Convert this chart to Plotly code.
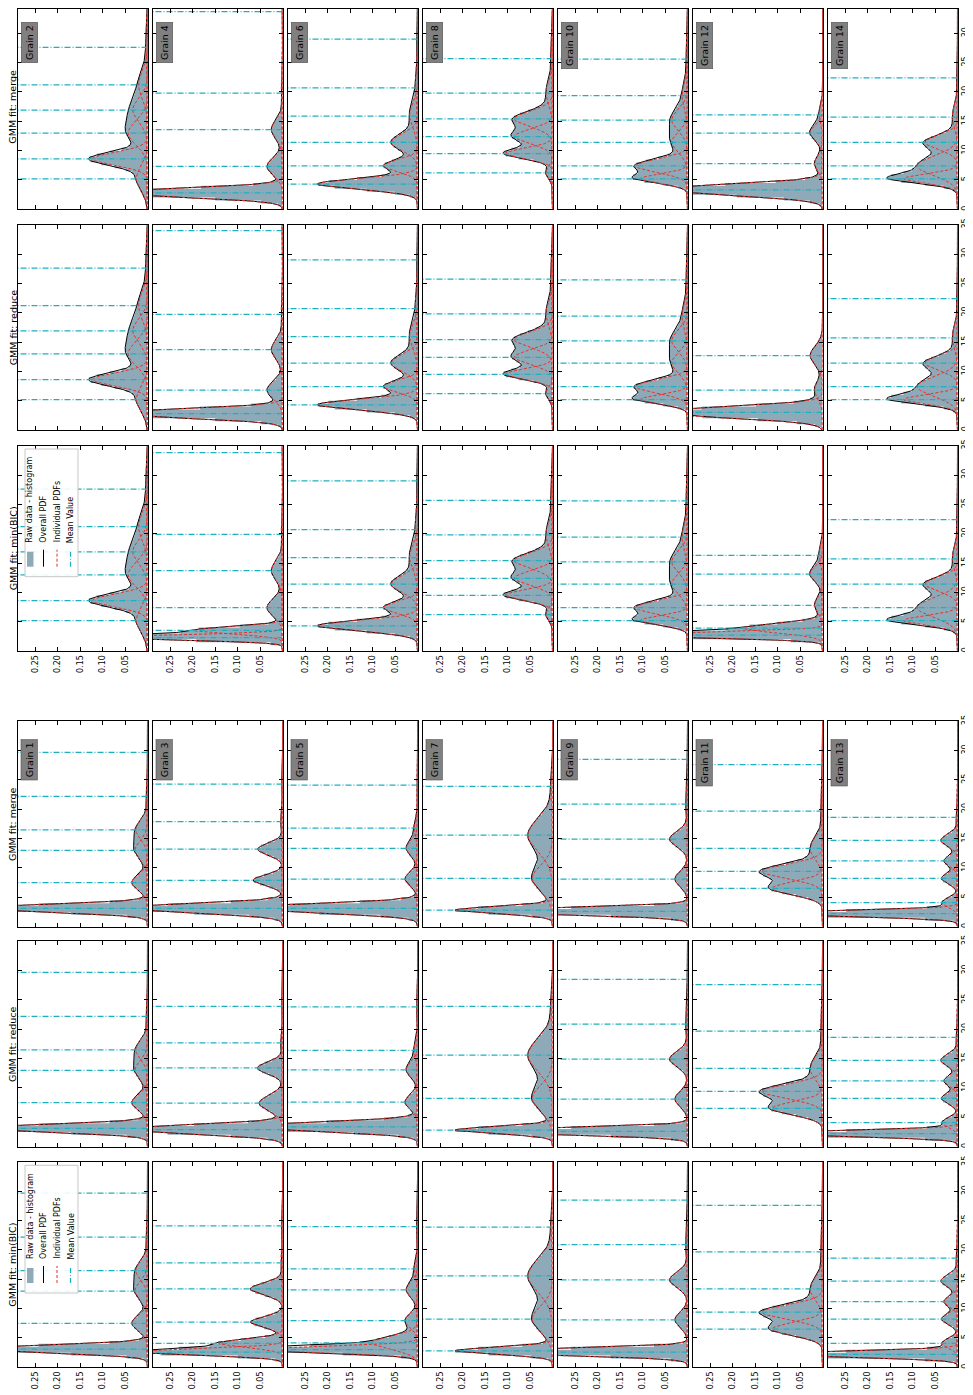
import numpy as np
import plotly.graph_objects as go

# --- panel layout (image is the rotated figure: value axis runs up, density runs left) ---
GRAINS_EVEN = [2, 4, 6, 8, 10, 12, 14]
GRAINS_ODD = [1, 3, 5, 7, 9, 11, 13]
METHODS = ["merge", "reduce", "min(BIC)"]
DENSITY_TICKS = [0.05, 0.10, 0.15, 0.20, 0.25]
VALUE_TICKS = [0, 5, 10, 15, 20, 25, 30, 35]
LEGEND_LABELS = ["Raw data - histogram", "Overall PDF", "Individual PDFs", "Mean Value"]

# --- GMM components: mean, std dev, weight ---
G1_MU = [3.1, 7.5, 13.0, 16.5, 22.2, 29.7]
G1_SD = [0.65, 1.3, 1.6, 1.6, 2.0, 2.0]
G1_W = [0.65, 0.114, 0.112, 0.104, 0.015, 0.005]

G2_MU = [5.2, 8.6, 13.0, 16.9, 21.2, 27.6]
G2_SD = [2.0, 1.1, 2.0, 2.0, 2.3, 4.0]
G2_W = [0.125, 0.336, 0.216, 0.165, 0.115, 0.04]

G3_MU = [3.1, 7.9, 13.2, 17.9, 24.3]
G3_SD = [0.75, 0.9, 1.0, 1.5, 2.0]
G3_W = [0.7, 0.147, 0.138, 0.015, 0.01]
G3_REDUCE_MU = [2.9, 7.4, 13.4, 17.7, 23.9]
G3_REDUCE_SD = [0.75, 1.3, 1.0, 1.5, 2.0]
G3_REDUCE_W = [0.7, 0.17, 0.14, 0.015, 0.01]
G3_BIC_MU = [2.6, 4.1, 7.7, 13.35, 17.8, 24.1]
G3_BIC_SD = [0.55, 0.7, 0.9, 1.0, 1.5, 2.0]
G3_BIC_W = [0.45, 0.25, 0.16, 0.18, 0.015, 0.01]

G4_MU = [2.8, 7.3, 13.6, 19.8, 33.7]
G4_SD = [0.75, 1.5, 1.6, 2.0, 2.0]
G4_W = [0.75, 0.13, 0.10, 0.015, 0.005]
G4_REDUCE_MU = [2.8, 6.8, 13.7, 19.7, 34.0]
G4_BIC_MU = [2.3, 3.5, 7.4, 13.7, 19.9, 33.8]
G4_BIC_SD = [0.45, 0.6, 1.5, 1.6, 2.0, 2.0]
G4_BIC_W = [0.45, 0.30, 0.13, 0.10, 0.015, 0.005]

G5_MU = [3.1, 8.1, 13.35, 16.8, 24.1]
G5_SD = [0.75, 1.2, 1.3, 1.5, 2.0]
G5_W = [0.78, 0.084, 0.081, 0.03, 0.01]
G5_REDUCE_MU = [3.35, 7.6, 13.1, 16.4, 23.8]
G5_BIC_MU = [3.0, 4.15, 7.95, 13.2, 16.8, 24.0]
G5_BIC_SD = [0.55, 1.1, 1.2, 1.3, 1.5, 2.0]
G5_BIC_W = [0.5, 0.28, 0.084, 0.081, 0.03, 0.01]

G6_MU = [4.3, 7.4, 11.4, 15.9, 20.7, 29.0]
G6_SD = [0.9, 1.0, 1.4, 2.0, 2.5, 3.0]
G6_W = [0.501, 0.188, 0.204, 0.09, 0.031, 0.011]

G7_MU = [2.8, 8.2, 15.6, 23.9]
G7_SD = [0.6, 2.2, 2.8, 2.0]
G7_W = [0.323, 0.248, 0.386, 0.02]

G8_MU = [6.2, 9.5, 12.4, 15.4, 19.8, 25.7]
G8_SD = [1.0, 0.9, 1.2, 1.3, 2.0, 2.5]
G8_W = [0.038, 0.237, 0.256, 0.277, 0.075, 0.025]

G9_MU = [2.6, 8.1, 14.9, 20.9, 28.5]
G9_SD = [0.6, 1.3, 1.3, 2.0, 2.0]
G9_W = [0.7, 0.091, 0.13, 0.02, 0.005]

G10_MU = [5.2, 7.4, 11.4, 15.2, 19.4, 25.6]
G10_SD = [0.8, 1.1, 1.7, 1.8, 2.2, 2.5]
G10_W = [0.21, 0.317, 0.149, 0.158, 0.066, 0.019]

G11_MU = [6.5, 9.4, 13.35, 19.7, 27.6]
G11_SD = [1.1, 1.2, 1.8, 2.5, 2.0]
G11_W = [0.309, 0.406, 0.126, 0.025, 0.005]

G12_MU = [3.3, 7.8, 13.0, 16.1]
G12_SD = [0.9, 1.3, 1.3, 1.5]
G12_W = [0.85, 0.059, 0.091, 0.03]
G12_REDUCE_MU = [3.0, 6.8, 12.7]
G12_REDUCE_SD = [0.9, 1.5, 1.6]
G12_REDUCE_W = [0.85, 0.07, 0.11]
G12_BIC_MU = [2.7, 3.9, 7.8, 13.1, 16.3]
G12_BIC_SD = [0.5, 0.8, 1.3, 1.3, 1.5]
G12_BIC_W = [0.5, 0.35, 0.059, 0.091, 0.03]

G13_MU = [2.2, 4.1, 8.2, 11.2, 14.7, 18.6]
G13_SD = [0.5, 0.8, 0.9, 0.9, 1.0, 1.5]
G13_W = [0.55, 0.07, 0.081, 0.068, 0.093, 0.011]

G14_MU = [5.2, 7.4, 11.4, 15.7, 22.4]
G14_SD = [0.8, 1.6, 1.2, 1.8, 3.0]
G14_W = [0.24, 0.361, 0.217, 0.054, 0.015]


def same(mu, sd, w):
    return {m: (mu, sd, w) for m in METHODS}


FITS = {
    1: same(G1_MU, G1_SD, G1_W),
    2: same(G2_MU, G2_SD, G2_W),
    3: {"merge": (G3_MU, G3_SD, G3_W),
        "reduce": (G3_REDUCE_MU, G3_REDUCE_SD, G3_REDUCE_W),
        "min(BIC)": (G3_BIC_MU, G3_BIC_SD, G3_BIC_W)},
    4: {"merge": (G4_MU, G4_SD, G4_W),
        "reduce": (G4_REDUCE_MU, G4_SD, G4_W),
        "min(BIC)": (G4_BIC_MU, G4_BIC_SD, G4_BIC_W)},
    5: {"merge": (G5_MU, G5_SD, G5_W),
        "reduce": (G5_REDUCE_MU, G5_SD, G5_W),
        "min(BIC)": (G5_BIC_MU, G5_BIC_SD, G5_BIC_W)},
    6: same(G6_MU, G6_SD, G6_W),
    7: same(G7_MU, G7_SD, G7_W),
    8: same(G8_MU, G8_SD, G8_W),
    9: same(G9_MU, G9_SD, G9_W),
    10: same(G10_MU, G10_SD, G10_W),
    11: same(G11_MU, G11_SD, G11_W),
    12: {"merge": (G12_MU, G12_SD, G12_W),
         "reduce": (G12_REDUCE_MU, G12_REDUCE_SD, G12_REDUCE_W),
         "min(BIC)": (G12_BIC_MU, G12_BIC_SD, G12_BIC_W)},
    13: same(G13_MU, G13_SD, G13_W),
    14: same(G14_MU, G14_SD, G14_W),
}

# --- geometry (screen pixels of the reference) / style ---
OFF = 8                      # page body margin the plot div sits inside
FIG_W, FIG_H = 973 - OFF, 1395 - OFF
PANEL_W, PANEL_H = 129.5, 205.3
COL_LEFT = [18 + 135 * c for c in range(7)]
ROW_TOP = [4, 224.7, 445.7, 721.3, 941.3, 1162]
XMAX = 0.288
YMAX = 35.0
FONT = "DejaVu Sans"
HIST_COLOR = "#8eaab8"
RED = "#e3332b"
CYAN = "#1fb0bf"
DASH_RED = "3px,2px"
DASH_CYAN = "6px,2px,1px,2px"


def sx(v):
    return (v - OFF) / FIG_W


def sy(v):
    return 1 - (v - OFF) / FIG_H


yy = np.linspace(0, 35, 701)
edges = np.arange(0, 35.01, 0.5)
centers = (edges[:-1] + edges[1:]) / 2


def comp_pdf(y, mu, sd, w):
    return w * np.exp(-0.5 * ((y - mu) / sd) ** 2) / (sd * np.sqrt(2 * np.pi))


fig = go.Figure()
shapes, annos, axes = [], [], {}
n = 0
for b, grains in enumerate([GRAINS_EVEN, GRAINS_ODD]):
    for r, method in enumerate(METHODS):
        top = ROW_TOP[3 * b + r]
        bottom = top + PANEL_H
        top_vis = max(top, OFF + 0.5)
        y_top = YMAX * (bottom - top_vis) / PANEL_H
        for c, g in enumerate(grains):
            n += 1
            sfx = "" if n == 1 else str(n)
            xa, ya = "x" + sfx, "y" + sfx
            mu, sd, w = FITS[g][method]
            left = COL_LEFT[c]

            # raw data histogram (binned)
            hist = sum(comp_pdf(centers, m, s, k) for m, s, k in zip(mu, sd, w))
            fig.add_trace(go.Scatter(
                x=np.append(hist, hist[-1]), y=edges, mode="lines",
                line=dict(width=0, shape="vh"), fill="tozerox", fillcolor=HIST_COLOR,
                xaxis=xa, yaxis=ya, hoverinfo="skip", showlegend=False))

            # overall PDF
            overall = sum(comp_pdf(yy, m, s, k) for m, s, k in zip(mu, sd, w))
            fig.add_trace(go.Scatter(
                x=overall, y=yy, mode="lines", line=dict(color="black", width=1),
                xaxis=xa, yaxis=ya, hoverinfo="skip", showlegend=False))

            # individual PDFs
            cx, cy = [], []
            for m, s, k in zip(mu, sd, w):
                cx += list(comp_pdf(yy, m, s, k)) + [None]
                cy += list(yy) + [None]
            fig.add_trace(go.Scatter(
                x=cx, y=cy, mode="lines", line=dict(color=RED, width=1, dash=DASH_RED),
                xaxis=xa, yaxis=ya, hoverinfo="skip", showlegend=False))

            # mean values
            mx, my = [], []
            for m in mu:
                mx += [0, 0.3, None]
                my += [m, m, None]
            fig.add_trace(go.Scatter(
                x=mx, y=my, mode="lines", line=dict(color=CYAN, width=1.25, dash=DASH_CYAN),
                xaxis=xa, yaxis=ya, hoverinfo="skip", showlegend=False))

            tickfont = dict(size=8, family=FONT, color="black")
            axes["xaxis" + sfx] = dict(
                domain=[sx(left), sx(left + PANEL_W)], anchor=ya,
                range=[XMAX, 0], tickvals=DENSITY_TICKS, tickformat=".2f",
                ticks="inside", ticklen=4, tickwidth=1, tickcolor="black",
                showline=True, linecolor="black", linewidth=1, mirror="ticks",
                showgrid=False, zeroline=False, showticklabels=(r == 2),
                tickangle=-90, tickfont=tickfont, automargin=False)
            axes["yaxis" + sfx] = dict(
                domain=[sy(bottom), min(1.0, sy(top_vis))], anchor=xa,
                range=[0, y_top], tickvals=VALUE_TICKS,
                ticks="inside", ticklen=4, tickwidth=1, tickcolor="black",
                showline=True, linecolor="black", linewidth=1, mirror="ticks",
                showgrid=False, zeroline=False, showticklabels=(c == 6),
                side="right" if c == 6 else "left",
                tickangle=-90, tickfont=tickfont, automargin=False)

            if r == 0:
                annos.append(dict(
                    xref="paper", yref="paper", x=sx(left + 3), y=sy(top + 18),
                    xanchor="left", yanchor="top", text=f"Grain {g}", textangle=-90,
                    showarrow=False, font=dict(size=9.5, family=FONT, color="black"),
                    bgcolor="#808080", bordercolor="#505050", borderwidth=0.6, borderpad=2.5))

            if c == 0:
                annos.append(dict(
                    xref="paper", yref="paper", x=sx(13),
                    y=sy(top + PANEL_H / 2), xanchor="center", yanchor="middle",
                    text=f"GMM fit: {method}", textangle=-90, showarrow=False,
                    font=dict(size=9.5, family=FONT, color="black")))

            if r == 2 and c == 0:
                # legend box, drawn by hand so it can be rotated with the figure
                def px(v):
                    return sx(left + v)

                def py(v):
                    return sy(top + v)

                shapes.append(dict(
                    type="rect", xref="paper", yref="paper",
                    x0=px(7), x1=px(60), y0=py(131), y1=py(3.3),
                    fillcolor="rgba(255,255,255,0.9)", line=dict(color="#c8c8c8", width=1),
                    layer="above"))
                shapes.append(dict(
                    type="rect", xref="paper", yref="paper",
                    x0=px(9), x1=px(15.5), y0=py(121), y1=py(106),
                    fillcolor=HIST_COLOR, line=dict(width=0), layer="above"))
                sym_x = [25.5, 39, 52.5]
                sym_style = [dict(color="black", width=1),
                             dict(color=RED, width=1, dash="3px,2px"),
                             dict(color=CYAN, width=1.2, dash="5px,2px,1px,2px")]
                for lx, st in zip(sym_x, sym_style):
                    shapes.append(dict(
                        type="line", xref="paper", yref="paper", x0=px(lx), x1=px(lx),
                        y0=py(121), y1=py(104), line=st, layer="above"))
                for tx, label in zip([12, 25.5, 39, 52.5], LEGEND_LABELS):
                    annos.append(dict(
                        xref="paper", yref="paper", x=px(tx), y=py(99), xanchor="center",
                        yanchor="bottom", text=label, textangle=-90, showarrow=False,
                        font=dict(size=8, family=FONT, color="black")))

fig.update_layout(
    width=FIG_W, height=FIG_H, template="none",
    margin=dict(l=0, r=0, t=0, b=0),
    paper_bgcolor="white", plot_bgcolor="white",
    font=dict(family=FONT, color="black"),
    showlegend=False, shapes=shapes, annotations=annos, **axes)

fig.write_html("out.html")
